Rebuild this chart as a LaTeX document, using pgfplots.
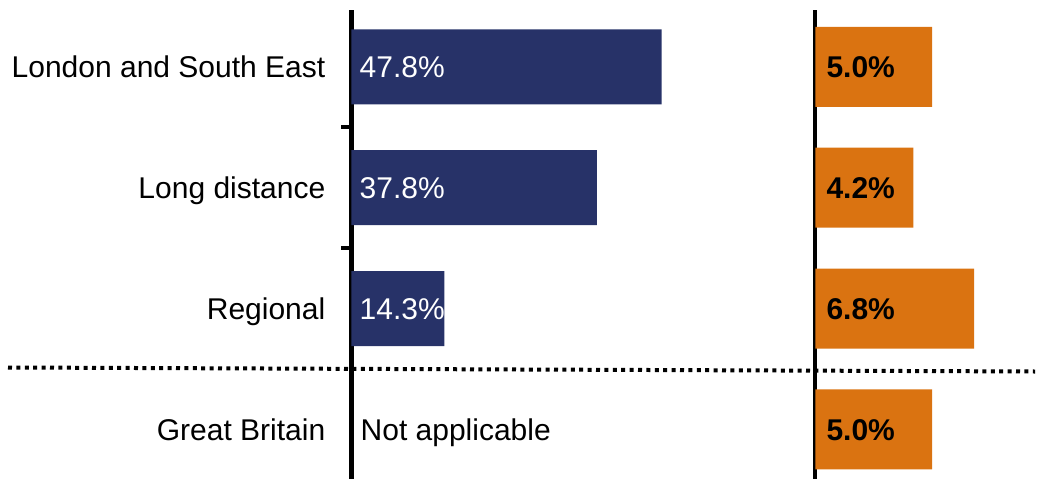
\documentclass[border=0pt]{standalone}
\usepackage{pgfplots}
\pgfplotsset{compat=1.18}
\usepackage{fontspec}
\setmainfont{Liberation Sans}
\definecolor{navy}{HTML}{273268}
\definecolor{orng}{HTML}{DA7311}
\begin{document}
\fontsize{30bp}{36bp}\selectfont
\begin{tikzpicture}
\path[use as bounding box] (0,0) rectangle (1041bp,-479bp);
\pgfplotsset{
  common/.style={
    scale only axis, height=469bp,
    ymin=-0.47, ymax=3.41, y dir=reverse,
    xmin=0,
    hide x axis,
    axis y line*=left,
    axis line style={line width=4bp},
    clip=false,
    anchor=south west,
  }
}
\begin{axis}[common,
  at={(351.5bp,-479bp)}, width=389.4bp, xmax=60,
  ytick={0.5,1.5}, yticklabels={,},
  tick align=outside, major tick length=10bp,
  tick style={line width=4bp, black},
  extra y ticks={0,1,2,3},
  extra y tick labels={London and South East,Long distance,Regional,Great Britain},
  extra y tick style={major tick length=0pt, tick style={draw=none},
    yticklabel style={anchor=base east, yshift=-0.36em, inner sep=0pt, xshift=-26bp}},
]
\addplot[xbar, bar width=75bp, fill=navy, draw=none] coordinates {(47.8,0) (37.8,1) (14.3,2)};
\addplot[draw=none, mark=none, nodes near coords, point meta=explicit symbolic,
  every node near coord/.style={anchor=base west, yshift=-0.36em, inner sep=0pt, xshift=8bp, white}]
  coordinates {(0,0) [47.8\%] (0,1) [37.8\%] (0,2) [14.3\%]};
\addplot[draw=none, mark=none, nodes near coords, point meta=explicit symbolic,
  every node near coord/.style={anchor=base west, yshift=-0.36em, inner sep=0pt, xshift=9bp, black}]
  coordinates {(0,3) [Not applicable]};
\end{axis}
\begin{axis}[common,
  at={(815.3bp,-479bp)}, width=186.8bp, xmax=8,
  ytick=\empty,
]
\addplot[xbar, bar width=80bp, fill=orng, draw=none] coordinates {(5.0,0) (4.2,1) (6.8,2) (5.0,3)};
\addplot[draw=none, mark=none, nodes near coords, point meta=explicit symbolic,
  every node near coord/.style={anchor=base west, yshift=-0.36em, inner sep=0pt, xshift=11bp, black, font=\bfseries}]
  coordinates {(0,0) [5.0\%] (0,1) [4.2\%] (0,2) [6.8\%] (0,3) [5.0\%]};
\end{axis}
\draw[line width=4bp, dash pattern=on 4bp off 4.4bp] (8bp,-367.5bp) -- (1035bp,-371.5bp);
\end{tikzpicture}
\end{document}
